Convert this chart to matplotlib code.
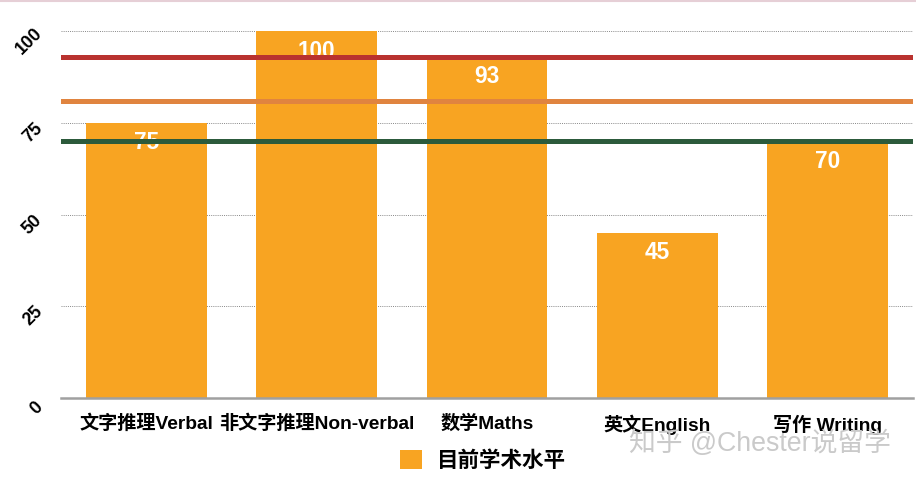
import matplotlib
matplotlib.use("Agg")
import matplotlib.pyplot as plt
import matplotlib.transforms as mtransforms
from matplotlib.patches import Patch
from matplotlib.lines import Line2D

plt.rcParams['font.family'] = ['Liberation Sans', 'Noto Sans CJK SC', 'DejaVu Sans']

categories = ["文字推理Verbal", "非文字推理Non-verbal", "数学Maths", "英文English", "写作 Writing"]
values = [75, 100, 93, 45, 70]
series_name = "目前学术水平"
ref_levels = [93, 81, 70]
ref_colors = ["#B9322F", "#E0843F", "#2C5A3B"]
yticks = [0, 25, 50, 75, 100]
ytick_labels = ["0", "25", "50", "75", "100"]
watermark = "知乎 @Chester说留学"

W, H = 916, 482
fig = plt.figure(figsize=(W / 100, H / 100), dpi=100)
ax = fig.add_axes([61 / W, (H - 398) / H, (913 - 61) / W, (398 - 31) / H])

bar_color = "#F8A422"
x = list(range(len(categories)))
bars = ax.bar(x, values, width=0.71, color=bar_color, zorder=2)
ax.set_xlim(-0.5, len(categories) - 0.5)
ax.set_ylim(0, 100)

# value labels
for xi, v in zip(x, values):
    ax.annotate(str(v), (xi, v), xytext=(0, -20), textcoords="offset pixels",
                ha="center", va="center", color="white", fontsize=16.3,
                fontweight="bold", zorder=3)

# reference lines
for lvl, c in zip(ref_levels, ref_colors):
    ax.axhline(lvl, color=c, linewidth=3.6, zorder=4)

# grid
for t in yticks[1:]:
    ax.axhline(t, color="#888888", linewidth=0.7, linestyle=(0, (1, 1.2)), zorder=1)

for s in ["top", "right", "left"]:
    ax.spines[s].set_visible(False)
ax.spines["bottom"].set_color("#A0A0A0")
ax.spines["bottom"].set_linewidth(1.8)
ax.spines["bottom"].set_zorder(5)

ax.set_xticks(x)
ax.set_xticklabels(categories, fontsize=13.8, fontweight="bold")
ax.tick_params(axis="x", length=0, pad=12)

ax.set_yticks(yticks)
ax.set_yticklabels(ytick_labels, fontsize=12.8, fontweight="bold", rotation=45,
                   ha="right", va="center")
ax.tick_params(axis="y", length=0, pad=11)
off = mtransforms.ScaledTranslation(0, -10 / 100, fig.dpi_scale_trans)
for lab in ax.get_yticklabels():
    lab.set_transform(lab.get_transform() + off)

handles = [Patch(facecolor=bar_color, edgecolor="none", label=series_name)]
leg = fig.legend(handles=handles, loc="center", bbox_to_anchor=(483 / W, 1 - 461 / H),
                 frameon=False, prop={"size": 15.5, "weight": "bold"},
                 handlelength=1.0, handleheight=1.0, handletextpad=0.7)

fig.text(760 / W, 1 - 444 / H, watermark, ha="center", va="center",
         fontsize=19.3, color="#CACACA")

fig.add_artist(Line2D([0, 1], [1 - 0.8 / H, 1 - 0.8 / H], transform=fig.transFigure,
                      color="#E6CFD6", linewidth=1.5))

fig.savefig("out.png", dpi=100)
